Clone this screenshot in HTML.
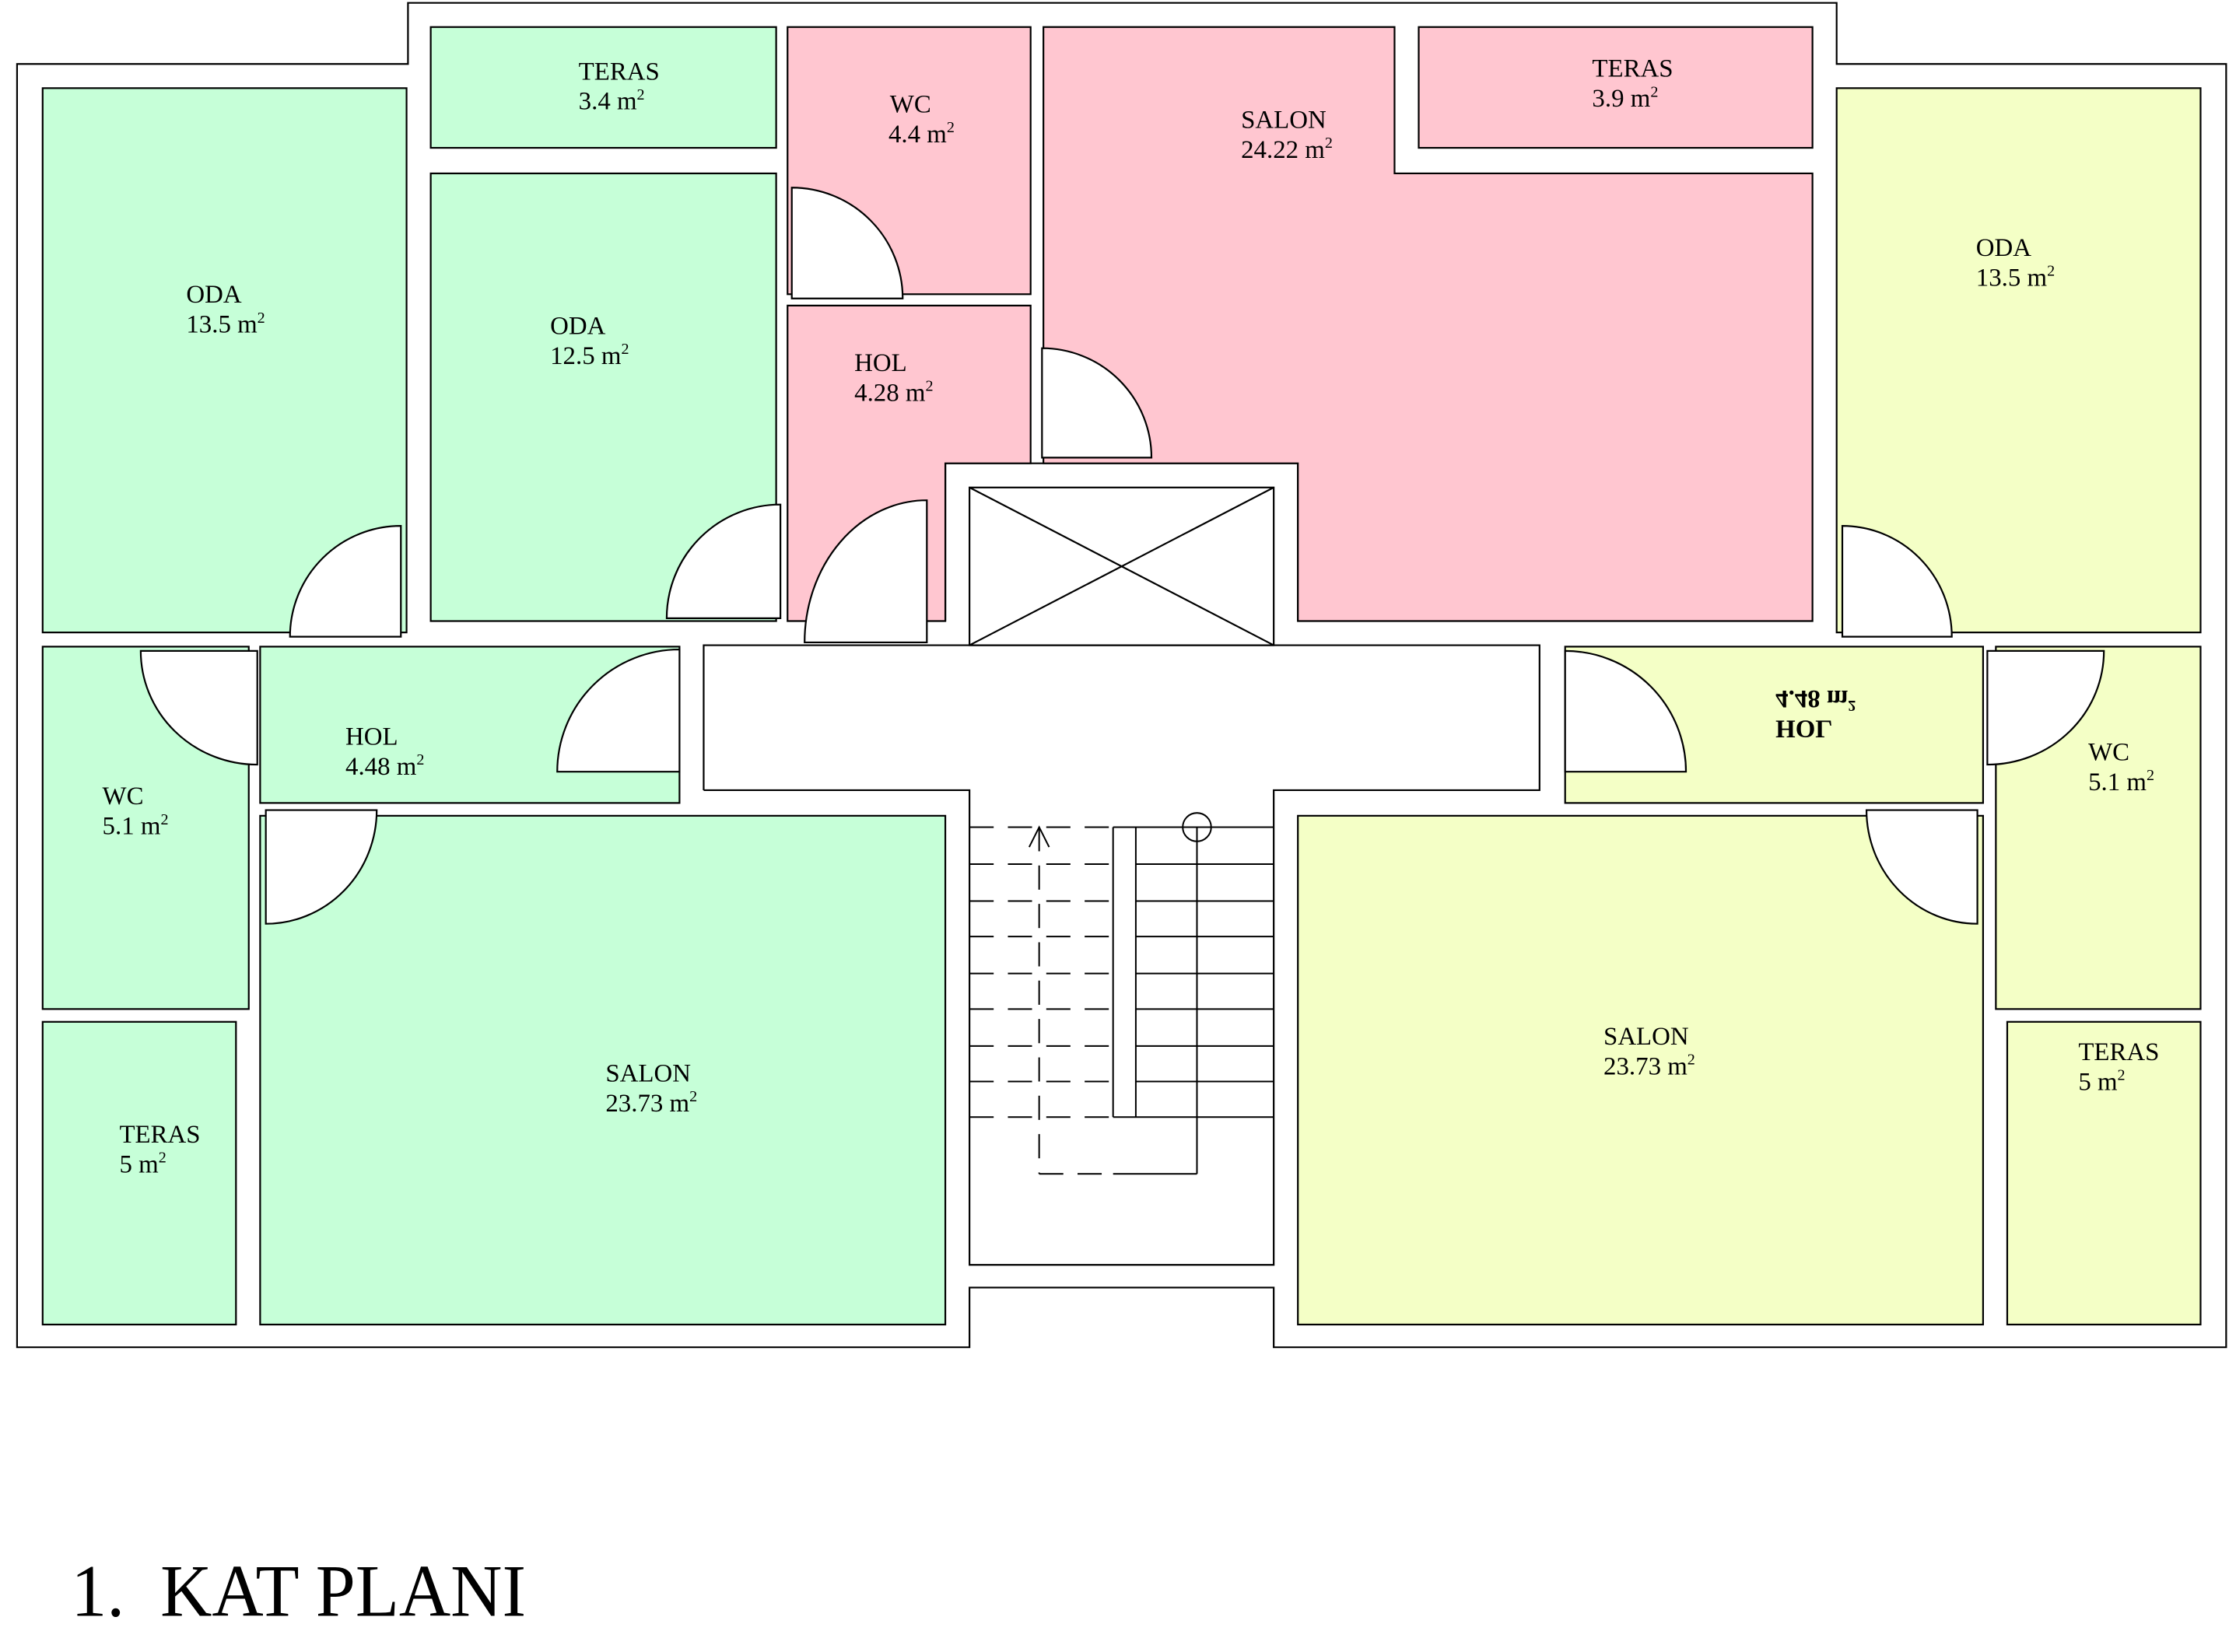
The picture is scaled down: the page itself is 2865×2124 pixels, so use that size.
<!DOCTYPE html>
<html><head><meta charset="utf-8"><style>html,body{margin:0;padding:0;background:#fff}svg{display:block}</style></head>
<body>
<svg xmlns="http://www.w3.org/2000/svg" width="2865" height="2124" viewBox="0 0 1568 1162.4">
<rect width="1568" height="1163" fill="#fff"/>
<g stroke="#000" stroke-width="1.2" fill="none">
<polygon points="12,45 287,45 287,2 1292,2 1292,45 1566,45 1566,948 896,948 896,906 682,906 682,948 12,948"/>
<polyline points="495,556 495,454 1083,454 1083,556 896,556 896,890 682,890 682,556 495,556" fill="#fff"/>
<polyline points="665,437 665,326 913,326 913,437"/>
</g>
<g stroke="#000" stroke-width="1.2">
<g fill="#c6ffd8">
<rect x="303" y="19" width="243" height="85"/>
<rect x="303" y="122" width="243" height="315"/>
<rect x="30" y="62" width="256" height="383"/>
<rect x="30" y="455" width="145" height="255"/>
<rect x="183" y="455" width="295" height="110"/>
<rect x="183" y="574" width="482" height="358"/>
<rect x="30" y="719" width="136" height="213"/>
</g>
<g fill="#ffc6d0">
<rect x="554" y="19" width="171" height="188"/>
<polygon points="554,215 725,215 725,326 665,326 665,437 554,437"/>
<polygon points="734,19 981,19 981,122 1275,122 1275,437 913,437 913,326 734,326"/>
<rect x="998" y="19" width="277" height="85"/>
</g>
<g fill="#f4ffc6">
<rect x="1292" y="62" width="256" height="383"/>
<rect x="1101" y="455" width="294" height="110"/>
<rect x="1404" y="455" width="144" height="255"/>
<rect x="913" y="574" width="482" height="358"/>
<rect x="1412" y="719" width="136" height="213"/>
</g>
<rect x="682" y="343" width="214" height="111" fill="#fff"/>
<line x1="682" y1="343" x2="896" y2="454"/><line x1="896" y1="343" x2="682" y2="454"/>
<g fill="#fff">
<path d="M282,448 L204,448 A78,78 0 0 1 282,370 Z"/>
<path d="M549,435 L469,435 A80,80 0 0 1 549,355 Z"/>
<path d="M557,210 L557,132 A78,78 0 0 1 635,210 Z"/>
<path d="M652,452 L566,452 A86,100 0 0 1 652,352 Z"/>
<path d="M733,322 L733,245 A77,77 0 0 1 810,322 Z"/>
<path d="M478,543 L392,543 A86,86 0 0 1 478,457 Z"/>
<path d="M181,458 L181,538 A82,80 0 0 1 99,458 Z"/>
<path d="M187,570 L265,570 A78,80 0 0 1 187,650 Z"/>
<path d="M1296,448 L1296,370 A77,78 0 0 1 1373,448 Z"/>
<path d="M1101,543 L1101,458 A85,85 0 0 1 1186,543 Z"/>
<path d="M1398,458 L1480,458 A82,80 0 0 1 1398,538 Z"/>
<path d="M1391,570 L1391,650 A78,80 0 0 1 1313,570 Z"/>
</g>
</g>
<g stroke="#000" stroke-width="1.1" fill="none">
<g stroke-dasharray="17,10">
<line x1="682" y1="582" x2="783" y2="582"/>
<line x1="682" y1="608" x2="783" y2="608"/>
<line x1="682" y1="634" x2="783" y2="634"/>
<line x1="682" y1="659" x2="783" y2="659"/>
<line x1="682" y1="685" x2="783" y2="685"/>
<line x1="682" y1="710" x2="783" y2="710"/>
<line x1="682" y1="736" x2="783" y2="736"/>
<line x1="682" y1="761" x2="783" y2="761"/>
<line x1="682" y1="786" x2="783" y2="786"/>
<line x1="731" y1="582" x2="731" y2="826"/>
<line x1="731" y1="826" x2="783" y2="826"/>
</g>
<line x1="783" y1="582" x2="896" y2="582"/>
<line x1="799" y1="608" x2="896" y2="608"/>
<line x1="799" y1="634" x2="896" y2="634"/>
<line x1="799" y1="659" x2="896" y2="659"/>
<line x1="799" y1="685" x2="896" y2="685"/>
<line x1="799" y1="710" x2="896" y2="710"/>
<line x1="799" y1="736" x2="896" y2="736"/>
<line x1="799" y1="761" x2="896" y2="761"/>
<line x1="783" y1="786" x2="896" y2="786"/>
<line x1="783" y1="582" x2="783" y2="786"/>
<line x1="799" y1="582" x2="799" y2="786"/>
<line x1="842" y1="582" x2="842" y2="826"/>
<line x1="783" y1="826" x2="842" y2="826"/>
<circle cx="842" cy="582" r="10"/>
<polyline points="724,596 731,582 738,596"/>
</g>
<g font-family="'Liberation Serif', serif" font-size="18" fill="#000">
<text x="407" y="56">TERAS</text><text x="407" y="77">3.4 m<tspan font-size="11" dy="-7">2</tspan></text>
<text x="626" y="79">WC</text><text x="625" y="100">4.4 m<tspan font-size="11" dy="-7">2</tspan></text>
<text x="873" y="90">SALON</text><text x="873" y="111">24.22 m<tspan font-size="11" dy="-7">2</tspan></text>
<text x="1120" y="54">TERAS</text><text x="1120" y="75">3.9 m<tspan font-size="11" dy="-7">2</tspan></text>
<text x="131" y="213">ODA</text><text x="131" y="234">13.5 m<tspan font-size="11" dy="-7">2</tspan></text>
<text x="387" y="235">ODA</text><text x="387" y="256">12.5 m<tspan font-size="11" dy="-7">2</tspan></text>
<text x="601" y="261">HOL</text><text x="601" y="282">4.28 m<tspan font-size="11" dy="-7">2</tspan></text>
<text x="1390" y="180">ODA</text><text x="1390" y="201">13.5 m<tspan font-size="11" dy="-7">2</tspan></text>
<text x="243" y="524">HOL</text><text x="243" y="545">4.48 m<tspan font-size="11" dy="-7">2</tspan></text>
<text x="72" y="566">WC</text><text x="72" y="587">5.1 m<tspan font-size="11" dy="-7">2</tspan></text>
<text x="426" y="761">SALON</text><text x="426" y="782">23.73 m<tspan font-size="11" dy="-7">2</tspan></text>
<text x="84" y="804">TERAS</text><text x="84" y="825">5 m<tspan font-size="11" dy="-7">2</tspan></text>
<text x="1128" y="735">SALON</text><text x="1128" y="756">23.73 m<tspan font-size="11" dy="-7">2</tspan></text>
<text x="1469" y="535">WC</text><text x="1469" y="556">5.1 m<tspan font-size="11" dy="-7">2</tspan></text>
<text x="1462" y="746">TERAS</text><text x="1462" y="767">5 m<tspan font-size="11" dy="-7">2</tspan></text>
<g transform="translate(0,993) scale(1,-1)">
<text x="1249" y="486" font-weight="bold">HOL</text><text x="1249" y="507" font-weight="bold">4.48 m<tspan font-size="11" dy="-7">2</tspan></text>
</g>
<text x="50" y="1137" font-size="52" textLength="320" lengthAdjust="spacingAndGlyphs">1.&#160; KAT PLANI</text>
</g>
</svg>
</body></html>
